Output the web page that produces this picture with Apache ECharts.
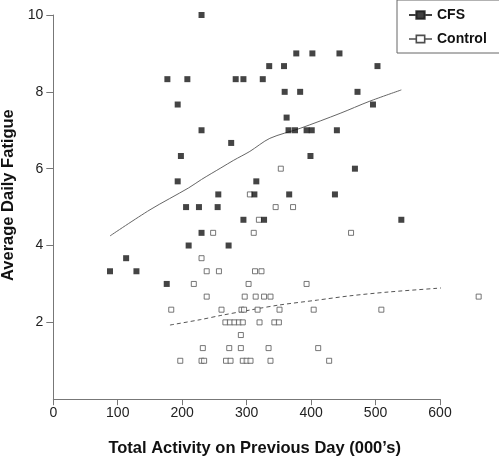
<!DOCTYPE html>
<html><head><meta charset="utf-8">
<script src="https://cdn.jsdelivr.net/npm/echarts@6/dist/echarts.min.js"></script>
<style>html,body{margin:0;padding:0;background:#fff}#c{width:499px;height:462px}</style>
</head><body><div id="c"></div>
<script>
const cfsActivity = [230, 377, 402, 444, 335, 358, 503, 177, 208, 283, 295, 325, 359, 383, 472, 193, 496, 362, 230, 365, 375, 393, 401, 440, 276, 198, 399, 468, 193, 315, 256, 312, 366, 437, 206, 226, 255, 295, 327, 540, 230, 210, 272, 113, 88, 129, 176];
const cfsFatigue = [10, 9, 9, 9, 8.67, 8.67, 8.67, 8.33, 8.33, 8.33, 8.33, 8.33, 8, 8, 8, 7.67, 7.67, 7.33, 7, 7, 7, 7, 7, 7, 6.67, 6.33, 6.33, 6, 5.67, 5.67, 5.33, 5.33, 5.33, 5.33, 5, 5, 5, 4.67, 4.67, 4.67, 4.33, 4, 4, 3.67, 3.33, 3.33, 3];
const ctlActivity = [353, 305, 345, 372, 319, 248, 311, 462, 230, 238, 257, 313, 323, 218, 303, 393, 238, 297, 314, 327, 337, 660, 183, 261, 292, 296, 317, 351, 404, 509, 267, 274, 281, 288, 294, 320, 343, 350, 291, 232, 273, 291, 334, 411, 197, 230, 234, 268, 275, 294, 300, 306, 337, 428];
const ctlFatigue = [6, 5.33, 5, 5, 4.67, 4.33, 4.33, 4.33, 3.67, 3.33, 3.33, 3.33, 3.33, 3, 3, 3, 2.67, 2.67, 2.67, 2.67, 2.67, 2.67, 2.33, 2.33, 2.33, 2.33, 2.33, 2.33, 2.33, 2.33, 2, 2, 2, 2, 2, 2, 2, 2, 1.67, 1.33, 1.33, 1.33, 1.33, 1.33, 1, 1, 1, 1, 1, 1, 1, 1, 1, 1];
const cfsTrendX = [88, 150, 210, 230, 260, 280, 305, 336, 383, 445, 490, 540];
const cfsTrendY = [4.25, 4.93, 5.5, 5.72, 6.02, 6.22, 6.45, 6.79, 7.05, 7.44, 7.75, 8.05];
const ctlTrendX = [181, 228, 260, 305, 350, 410, 460, 520, 590, 660];
const ctlTrendY = [1.93, 2.07, 2.18, 2.32, 2.45, 2.58, 2.69, 2.79, 2.88, 2.97];
const xTicks = [0, 100, 200, 300, 400, 500, 600];
const yTicks = [0, 2, 4, 6, 8, 10];

const zip = (a, b) => a.map((v, i) => [v, b[i]]);
const FONT = '"Liberation Sans", Arial, sans-serif';
const icon = 'path://M0,4.5 L7,4.5 M7,1 L15,1 L15,8 L7,8 Z M15,4.5 L22,4.5';

const chart = echarts.init(document.getElementById('c'), null, {renderer: 'canvas'});
chart.setOption({
  animation: false,
  backgroundColor: '#fff',
  grid: {left: 53.3, top: 15, right: 59, bottom: 62.8, containLabel: false, outerBoundsMode: 'none'},
  legend: {
    orient: 'vertical', left: 397, top: 0,
    padding: [8, 17, 7, 11], itemGap: 10,
    itemWidth: 23, itemHeight: 9,
    borderColor: '#666', borderWidth: 1,
    textStyle: {fontFamily: FONT, fontWeight: 'bold', fontSize: 14, color: '#111'},
    data: [
      {name: 'CFS', icon: icon, itemStyle: {color: '#111', borderColor: '#111', borderWidth: 2}},
      {name: 'Control', icon: icon, itemStyle: {color: '#fff', borderColor: '#222', borderWidth: 1.6}}
    ]
  },
  xAxis: {
    type: 'value', min: xTicks[0], max: xTicks[xTicks.length - 1], interval: 100,
    name: 'Total Activity on Previous Day (000\u2019s)', nameLocation: 'middle', nameGap: 41,
    nameTextStyle: {fontFamily: FONT, fontWeight: 'bold', fontSize: 16.5, color: '#111', padding: [0, 0, 0, 16]},
    axisLine: {show: true, lineStyle: {color: '#777', width: 1}},
    axisTick: {show: true, length: 6, lineStyle: {color: '#777'}},
    axisLabel: {fontFamily: FONT, fontSize: 14, color: '#222', margin: 7},
    splitLine: {show: false}
  },
  yAxis: {
    type: 'value', min: yTicks[0], max: yTicks[yTicks.length - 1], interval: 2,
    name: 'Average Daily Fatigue', nameLocation: 'middle', nameGap: 29, nameRotate: 90,
    nameTextStyle: {fontFamily: FONT, fontWeight: 'bold', fontSize: 16.5, color: '#111', padding: [0, 0, 0, 24]},
    axisLine: {show: true, lineStyle: {color: '#777', width: 1}},
    axisTick: {show: true, length: 7, lineStyle: {color: '#777'}},
    axisLabel: {fontFamily: FONT, fontSize: 14, color: '#222', margin: 10, showMinLabel: false},
    splitLine: {show: false}
  },
  series: [
    {name: 'CFS trend', type: 'line', data: zip(cfsTrendX, cfsTrendY), showSymbol: false, symbol: 'none',
     smooth: 0.3, clip: false, lineStyle: {color: '#666', width: 1}, silent: true, z: 1},
    {name: 'Control trend', type: 'line', data: zip(ctlTrendX, ctlTrendY), showSymbol: false, symbol: 'none',
     smooth: 0.3, clip: false, lineStyle: {color: '#555', width: 1, type: [4, 3]}, silent: true, z: 1},
    {name: 'CFS', type: 'scatter', data: zip(cfsActivity, cfsFatigue), symbol: 'rect', symbolSize: 6,
     clip: false, itemStyle: {color: '#151515', borderColor: '#151515', borderWidth: 0}, z: 3},
    {name: 'Control', type: 'scatter', data: zip(ctlActivity, ctlFatigue), symbol: 'rect', symbolSize: 5,
     clip: false, itemStyle: {color: '#fff', borderColor: '#555', borderWidth: 1}, z: 2}
  ]
});
</script></body></html>
